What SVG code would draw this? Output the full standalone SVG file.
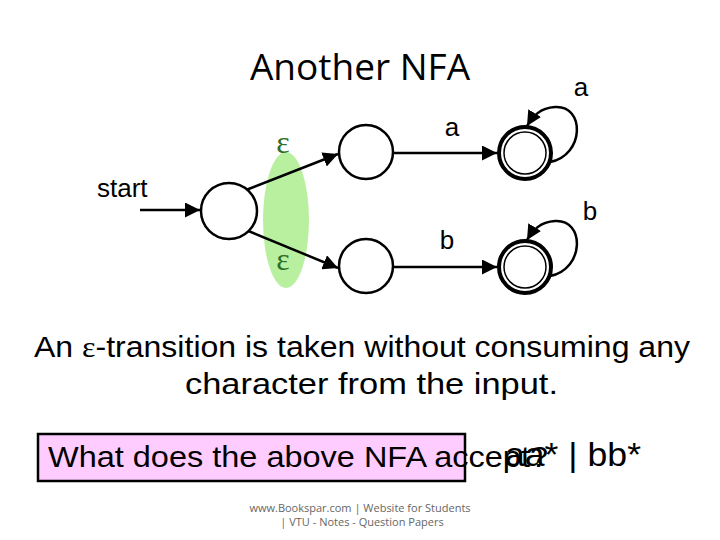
<svg xmlns="http://www.w3.org/2000/svg" width="720" height="540" viewBox="0 0 720 540">
<defs>
<marker id="ah" viewBox="0 0 10 10" refX="10" refY="5" markerWidth="6" markerHeight="6" orient="auto-start-reverse"><path d="M0,0 L10,5 L0,10 z" fill="#000"/></marker>
<style>
.n{fill:#fff;stroke:#000;stroke-width:2.5}
.f{fill:#fff;stroke:#000;stroke-width:4}
.e{fill:none;stroke:#000;stroke-width:2.5;marker-end:url(#ah)}
.t{font-family:"Liberation Sans",Arial,sans-serif;fill:#000}
</style>
</defs>
<rect width="720" height="540" fill="#fff"/>
<text x="360" y="80" text-anchor="middle" font-size="37" style="font-family:'Open Sans',sans-serif">Another NFA</text>
<ellipse cx="286" cy="220" rx="23" ry="68" fill="#b8f0a0"/>
<g id="connectors">
<line class="e" x1="140" y1="210" x2="200" y2="210"/>
<line class="e" x1="246" y1="190" x2="338" y2="154"/>
<line class="e" x1="246" y1="230" x2="338" y2="268"/>
<line class="e" x1="393" y1="153" x2="497" y2="153"/>
<line class="e" x1="393" y1="267" x2="497" y2="267"/>
<path class="e" d="M550,162 C585,155 585,105 555,107 C540,108 533,116 527,126"/>
<path class="e" d="M550,276 C585,269 585,219 555,221 C540,222 533,230 527,240"/>
</g>
<g id="n0"><circle class="n" cx="229" cy="211" r="28"/></g>
<g id="n1"><circle class="n" cx="366" cy="152" r="27"/></g>
<g id="n2"><circle class="n" cx="366" cy="266" r="27"/></g>
<g id="n3"><circle class="f" cx="525" cy="153" r="26"/><circle fill="none" stroke="#000" stroke-width="1.5" cx="525" cy="153" r="21"/></g>
<g id="n4"><circle class="f" cx="525" cy="267" r="26"/><circle fill="none" stroke="#000" stroke-width="1.5" cx="525" cy="267" r="21"/></g>
<text class="t" x="97" y="197" font-size="26">start</text>
<text x="283" y="153" font-size="32" text-anchor="middle" font-family="Liberation Serif,serif" fill="#2a6e2a">ε</text>
<text x="283" y="270" font-size="32" text-anchor="middle" font-family="Liberation Serif,serif" fill="#2a6e2a">ε</text>
<text class="t" x="452" y="136" font-size="26" text-anchor="middle">a</text>
<text class="t" x="447" y="249" font-size="26" text-anchor="middle">b</text>
<text class="t" x="581" y="96" font-size="26" text-anchor="middle">a</text>
<text class="t" x="590" y="220" font-size="26" text-anchor="middle">b</text>
<text class="t" x="34" y="357" font-size="30" textLength="656" lengthAdjust="spacingAndGlyphs">An <tspan font-family="Liberation Serif,serif">ε</tspan>-transition is taken without consuming any</text>
<text class="t" x="185" y="394" font-size="30" textLength="373" lengthAdjust="spacingAndGlyphs">character  from the input.</text>
<rect x="38" y="434" width="427" height="47" fill="#ffccff" stroke="#000" stroke-width="2.5"/>
<text class="t" x="48" y="467" font-size="30" textLength="500" lengthAdjust="spacingAndGlyphs">What does the above NFA accept?</text>
<text class="t" x="505" y="466" font-size="33" textLength="136" lengthAdjust="spacingAndGlyphs">aa* | bb*</text>
<text x="360" y="512" font-size="11" text-anchor="middle" fill="#666" style="font-family:'Open Sans',sans-serif">www.Bookspar.com | Website for Students</text>
<text x="362" y="526" font-size="11" text-anchor="middle" fill="#666" style="font-family:'Open Sans',sans-serif">| VTU - Notes - Question Papers</text>
</svg>
